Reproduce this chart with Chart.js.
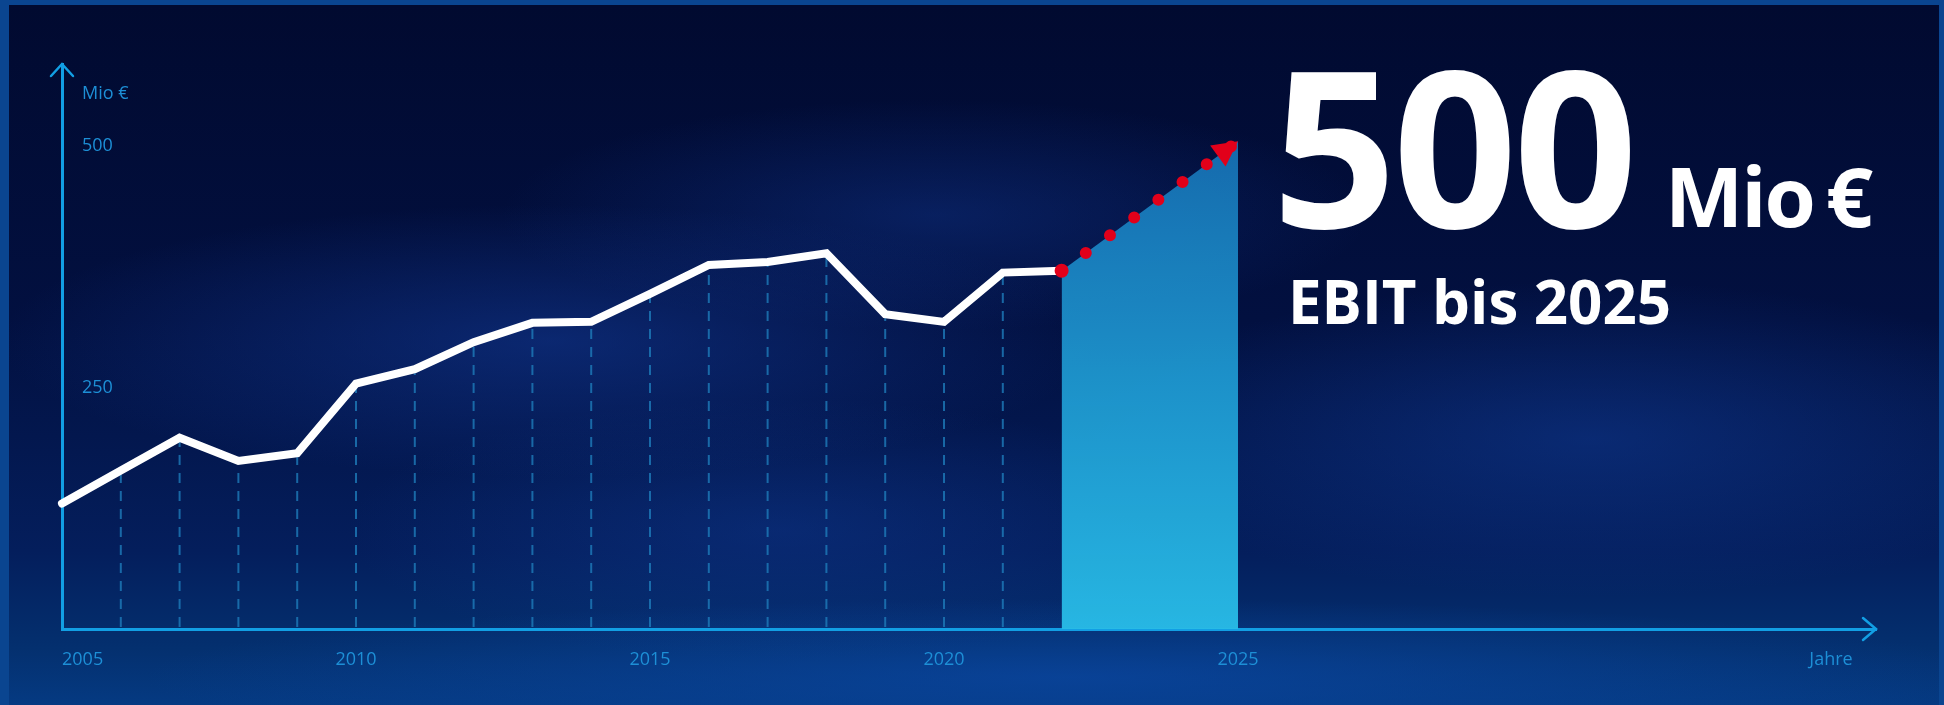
<!DOCTYPE html>
<html lang="de">
<head>
<meta charset="utf-8">
<title>EBIT bis 2025</title>
<script src="https://cdn.jsdelivr.net/npm/chart.js@4.4.1/dist/chart.umd.min.js"></script>
<style>
  html, body { margin: 0; padding: 0; }
  body { width: 1944px; height: 705px; overflow: hidden; background: #0a4590; font-family: "Open Sans", sans-serif; }
  #frame { position: absolute; left: 0; top: 0; width: 1944px; height: 705px; }
  #panel {
    position: absolute; left: 9px; top: 5px; width: 1930px; height: 700px;
    background:
      radial-gradient(ellipse 38% 26% at 28% 48%, rgba(18, 58, 150, 0.55), rgba(18, 58, 150, 0) 75%),
      radial-gradient(ellipse 30% 22% at 48% 30%, rgba(18, 58, 150, 0.40), rgba(18, 58, 150, 0) 75%),
      radial-gradient(ellipse 35% 30% at 82% 62%, rgba(16, 60, 150, 0.50), rgba(16, 60, 150, 0) 75%),
      radial-gradient(ellipse 30% 25% at 40% 75%, rgba(16, 60, 150, 0.40), rgba(16, 60, 150, 0) 75%),
      radial-gradient(ellipse 60% 14% at 55% 96%, rgba(10, 70, 160, 0.75), rgba(10, 70, 160, 0) 80%),
      linear-gradient(to bottom, #010a30 0%, #021040 45%, #041e5c 78%, #04306f 92%, #053a82 100%);
  }
  #chartBox { position: absolute; left: 0; top: 0; width: 1944px; height: 705px; }
  .headline { position: absolute; color: #ffffff; font-weight: 700; line-height: 1; white-space: nowrap; }
  #bigNum { left: 1272px; top: 35px; font-size: 218px; letter-spacing: -4px; }
  #unit { left: 1665px; top: 153px; font-size: 83px; letter-spacing: -2px; }
  #sub { left: 1288px; top: 271px; font-size: 60px; letter-spacing: 0px; }
</style>
</head>
<body>
<div id="frame">
  <div id="panel"></div>
  <div id="chartBox"><canvas id="ebitChart"></canvas></div>
  <div class="headline" id="bigNum">500</div>
  <div class="headline" id="unit">Mio&#8201;€</div>
  <div class="headline" id="sub">EBIT bis 2025</div>
</div>
<script>
// EBIT in Mio €
const histYears = [2005, 2006, 2007, 2008, 2009, 2010, 2011, 2012, 2013, 2014, 2015, 2016, 2017, 2018, 2019, 2020, 2021, 2022];
const histValues = [130, 164, 198, 174, 182, 254, 269, 297, 317, 318, 347, 377, 380, 389, 326, 318, 369, 371];

// Ziel bis 2025
const projYears = [2022, 2025];
const projValues = [371, 505];

const xTicks = [2005, 2010, 2015, 2020, 2025];
const yTicks = [250, 500];
const yUnit = 'Mio €';
const xUnit = 'Jahre';

const axisColor = '#129fe4';
const labelColor = '#1d8fd6';
const dropColor = 'rgba(30, 124, 186, 0.8)';
const redColor = '#e2001a';

const toPoints = (xs, ys) => xs.map((x, i) => ({ x: x, y: ys[i] }));

const overlay = {
    id: 'overlay',
    beforeDatasetsDraw(chart) {
        // gestrichelte Linien von den Jahreswerten zur x-Achse
        const ctx = chart.ctx;
        const meta = chart.getDatasetMeta(1);
        const bottom = chart.chartArea.bottom;
        ctx.save();
        ctx.strokeStyle = dropColor;
        ctx.lineWidth = 2;
        ctx.setLineDash([10, 8]);
        meta.data.forEach((pt, i) => {
            if (i === 0 || i === meta.data.length - 1) return;
            ctx.beginPath();
            ctx.moveTo(pt.x, bottom - 2);
            ctx.lineTo(pt.x, pt.y + 4);
            ctx.stroke();
        });
        ctx.restore();
    },
    afterDraw(chart) {
        const ctx = chart.ctx;
        const area = chart.chartArea;
        const xs = chart.scales.x;

        ctx.save();
        // Pfeilspitzen der Achsen
        ctx.strokeStyle = axisColor;
        ctx.lineWidth = 2.5;
        ctx.lineCap = 'round';
        ctx.beginPath();
        ctx.moveTo(area.left - 11, area.top + 12);
        ctx.lineTo(area.left, area.top);
        ctx.lineTo(area.left + 11, area.top + 12);
        ctx.stroke();
        ctx.beginPath();
        ctx.moveTo(area.right - 13, area.bottom - 11);
        ctx.lineTo(area.right, area.bottom);
        ctx.lineTo(area.right - 13, area.bottom + 11);
        ctx.stroke();

        // Beschriftung x-Achse
        ctx.fillStyle = labelColor;
        ctx.font = '400 18px "Open Sans"';
        ctx.textBaseline = 'middle';
        xTicks.forEach((year, i) => {
            ctx.textAlign = i === 0 ? 'left' : 'center';
            ctx.fillText(String(year), xs.getPixelForValue(year), area.bottom + 31);
        });
        ctx.textAlign = 'center';
        ctx.fillText(xUnit, area.right - 45, area.bottom + 31);

        // Einheit y-Achse
        ctx.textAlign = 'left';
        ctx.fillText(yUnit, area.left + 20, area.top + 30);

        // roter Pfeil am Ende der Prognose
        const pts = chart.getDatasetMeta(0).data;
        const tip = pts[pts.length - 1];
        const prev = pts[pts.length - 2];
        const ang = Math.atan2(tip.y - prev.y, tip.x - prev.x);
        const len = 25, half = 13;
        const bx = tip.x - Math.cos(ang) * len;
        const by = tip.y - Math.sin(ang) * len;
        ctx.fillStyle = redColor;
        ctx.beginPath();
        ctx.moveTo(tip.x, tip.y);
        ctx.lineTo(bx + Math.sin(ang) * half, by - Math.cos(ang) * half);
        ctx.lineTo(bx - Math.sin(ang) * half, by + Math.cos(ang) * half);
        ctx.closePath();
        ctx.fill();
        ctx.restore();
    }
};

const ctx = document.getElementById('ebitChart');
const ebitChart = new Chart(ctx.getContext('2d'), {
    type: 'line',
    data: {
        datasets: [{
            label: 'Ziel',
            data: toPoints(projYears, projValues),
            borderColor: redColor,
            borderWidth: 12,
            borderDash: [0, 30],
            borderCapStyle: 'round',
            pointRadius: [7, 0],
            pointBackgroundColor: redColor,
            pointBorderWidth: 0,
            fill: 'origin',
            backgroundColor: function(context) {
                const area = context.chart.chartArea;
                if (!area) return 'rgba(30, 140, 200, 0.9)';
                const g = context.chart.ctx.createLinearGradient(0, area.top + 70, 0, area.bottom);
                g.addColorStop(0, 'rgba(22, 110, 178, 0.95)');
                g.addColorStop(0.5, 'rgba(30, 152, 208, 0.95)');
                g.addColorStop(1, 'rgba(40, 187, 230, 0.97)');
                return g;
            },
            clip: false,
            tension: 0
        }, {
            label: 'EBIT',
            data: toPoints(histYears, histValues),
            borderColor: '#ffffff',
            borderWidth: 8,
            borderCapStyle: 'round',
            borderJoinStyle: 'miter',
            pointRadius: 0,
            fill: false,
            clip: false,
            tension: 0
        }]
    },
    options: {
        responsive: true,
        maintainAspectRatio: false,
        devicePixelRatio: 1,
        animation: false,
        layout: {
            padding: { left: 62, right: 68, top: 64, bottom: 76 }
        },
        scales: {
            x: {
                type: 'linear',
                min: 2005,
                max: 2035.85,
                grid: { display: false, drawTicks: false },
                border: { display: true, color: axisColor, width: 3 },
                ticks: { display: false },
                afterFit: function(scale) { scale.height = 0; }
            },
            y: {
                min: 0,
                max: 585,
                afterBuildTicks: function(scale) {
                    scale.ticks = yTicks.map(v => ({ value: v }));
                },
                afterFit: function(scale) { scale.width = 0; },
                grid: { display: false, drawTicks: false },
                border: { display: true, color: axisColor, width: 3 },
                ticks: {
                    mirror: true,
                    padding: 20,
                    color: labelColor,
                    font: { family: 'Open Sans', size: 18, weight: '400' }
                }
            }
        },
        plugins: {
            legend: { display: false },
            tooltip: { enabled: false }
        }
    },
    plugins: [overlay]
});
</script>
</body>
</html>
